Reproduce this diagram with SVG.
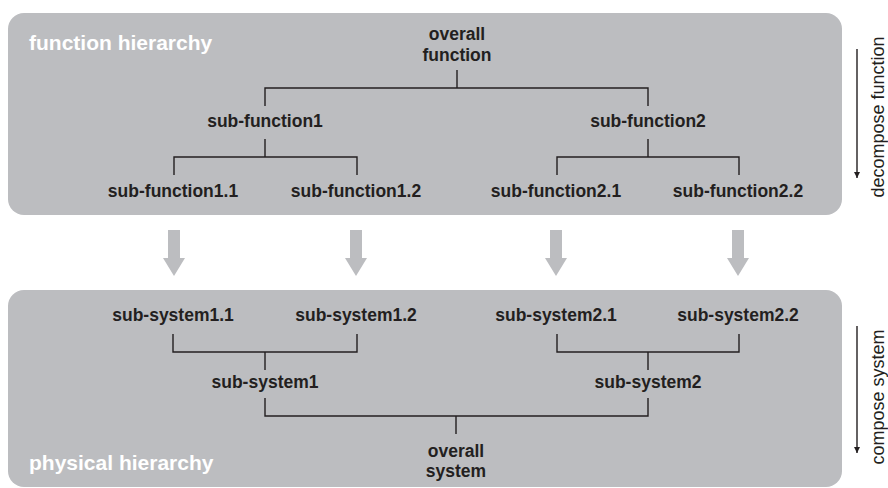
<svg xmlns="http://www.w3.org/2000/svg" width="888" height="488" viewBox="0 0 888 488">
<defs>
<style>
.panel{fill:#bcbdc0}
.lbl{font-family:"Liberation Sans",Arial,sans-serif;font-weight:bold;font-size:17.5px;fill:#231f20;text-anchor:middle}
.title{font-family:"Liberation Sans",Arial,sans-serif;font-weight:bold;font-size:21px;fill:#ffffff}
.side{font-family:"Liberation Sans",Arial,sans-serif;font-size:18px;fill:#231f20;text-anchor:middle}
.ln{fill:none;stroke:#231f20;stroke-width:1.4}
.big{fill:#bcbdc0}
</style>
<marker id="ah" viewBox="0 0 10 10" refX="10" refY="5" markerWidth="6" markerHeight="10" markerUnits="userSpaceOnUse" orient="auto">
<path d="M0,0 L10,5 L0,10 Z" fill="#231f20"/>
</marker>
</defs>
<rect width="888" height="488" fill="#ffffff"/>
<g id="panel-function">
<rect class="panel" x="8" y="13" width="834" height="202" rx="16" ry="16"/>
<text class="title" x="29" y="50">function hierarchy</text>
</g>
<g id="panel-physical">
<rect class="panel" x="8" y="290" width="834" height="197" rx="16" ry="16"/>
<text class="title" x="29" y="470">physical hierarchy</text>
</g>
<g id="connectors">
<path class="ln" d="M457,70 V88 M265,106 V88 H648 V106"/>
<path class="ln" d="M265,139 V157 M174,175 V157 H357 V175"/>
<path class="ln" d="M648,139 V157 M557,175 V157 H739 V175"/>
<path class="ln" d="M173,334 V352 H357 V334 M265,352 V370"/>
<path class="ln" d="M557,334 V352 H739 V334 M648,352 V370"/>
<path class="ln" d="M265,398 V416 H648 V398 M456,416 V434"/>
<path class="big" d="M168,230 H180 V258 H185 L174,276 L163,258 H168 Z"/>
<path class="big" d="M350,230 H362 V258 H367 L356,276 L345,258 H350 Z"/>
<path class="big" d="M550,230 H562 V258 H567 L556,276 L545,258 H550 Z"/>
<path class="big" d="M732,230 H744 V258 H749 L738,276 L727,258 H732 Z"/>
<line x1="857" y1="49" x2="857" y2="178" stroke="#231f20" stroke-width="1.4" marker-end="url(#ah)"/>
<line x1="857" y1="326" x2="857" y2="453" stroke="#231f20" stroke-width="1.4" marker-end="url(#ah)"/>
</g>
<g id="overall-function"><text class="lbl" x="457" y="40">overall</text><text class="lbl" x="457" y="61">function</text></g>
<g id="sub-function1"><text class="lbl" x="265" y="127">sub-function1</text></g>
<g id="sub-function2"><text class="lbl" x="648" y="127">sub-function2</text></g>
<g id="sub-function1-1"><text class="lbl" x="173" y="197">sub-function1.1</text></g>
<g id="sub-function1-2"><text class="lbl" x="356" y="197">sub-function1.2</text></g>
<g id="sub-function2-1"><text class="lbl" x="556" y="197">sub-function2.1</text></g>
<g id="sub-function2-2"><text class="lbl" x="738" y="197">sub-function2.2</text></g>
<g id="sub-system1-1"><text class="lbl" x="173" y="321">sub-system1.1</text></g>
<g id="sub-system1-2"><text class="lbl" x="356" y="321">sub-system1.2</text></g>
<g id="sub-system2-1"><text class="lbl" x="556" y="321">sub-system2.1</text></g>
<g id="sub-system2-2"><text class="lbl" x="738" y="321">sub-system2.2</text></g>
<g id="sub-system1"><text class="lbl" x="265" y="388">sub-system1</text></g>
<g id="sub-system2"><text class="lbl" x="648" y="388">sub-system2</text></g>
<g id="overall-system"><text class="lbl" x="456" y="457">overall</text><text class="lbl" x="456" y="477">system</text></g>
<g id="side-labels">
<text class="side" transform="translate(884,117) rotate(-90)">decompose function</text>
<text class="side" transform="translate(884,397) rotate(-90)">compose system</text>
</g>
</svg>
